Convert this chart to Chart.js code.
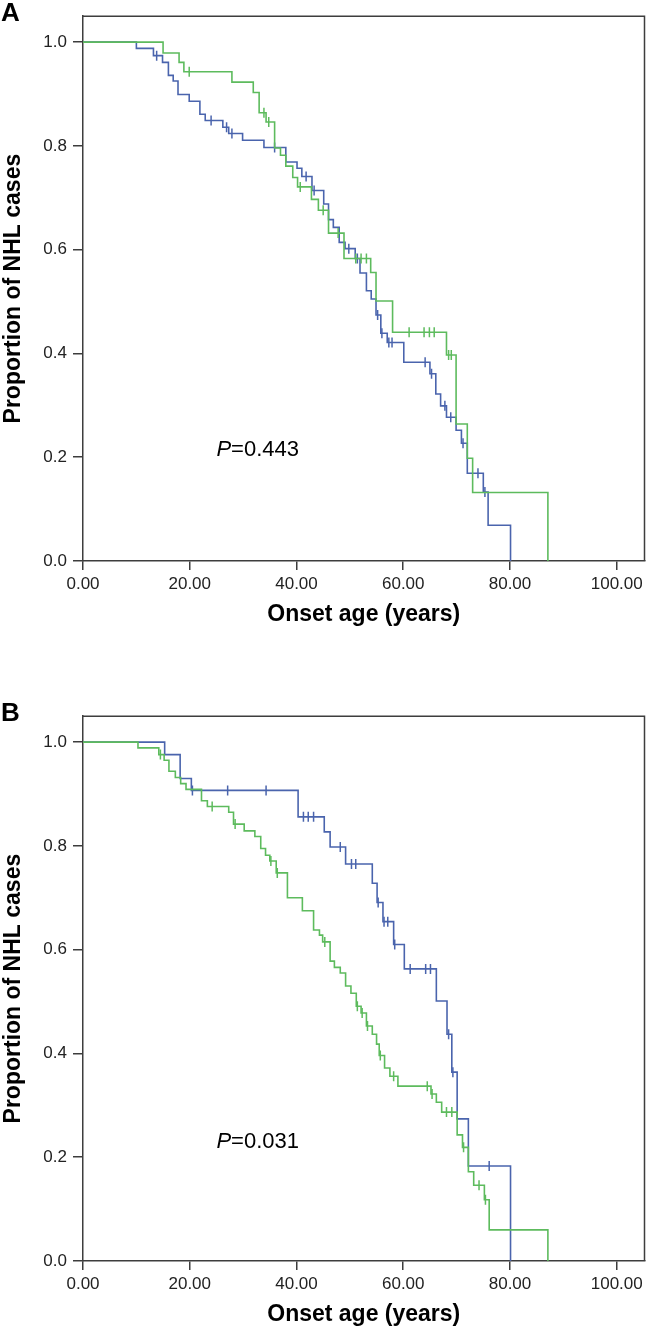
<!DOCTYPE html>
<html>
<head>
<meta charset="utf-8">
<script src="https://cdn.jsdelivr.net/npm/chart.js@4.4.1/dist/chart.umd.min.js"></script>
<style>
  html, body { margin: 0; padding: 0; background: #fff; }
  body { width: 651px; height: 1328px; position: relative; overflow: hidden; }
  canvas { position: absolute; left: 0; }
  #chartA { top: 0; }
  #chartB { top: 700px; }
</style>
</head>
<body>
<canvas id="chartA" width="651" height="628"></canvas>
<canvas id="chartB" width="651" height="628"></canvas>
<script>
const ageTicks = [0, 20, 40, 60, 80, 100];
const propTicks = [0, 0.2, 0.4, 0.6, 0.8, 1.0];

// panel A - blue group
const aBlueAge = [10.0, 13.2, 14.9, 16.0, 16.9, 17.8, 19.9, 21.9, 22.9, 26.2, 27.3, 29.9, 33.9, 38.0, 40.1, 41.0, 42.9, 45.1, 46.0, 46.9, 48.0, 49.1, 51.0, 51.9, 53.1, 54.0, 54.9, 55.8, 57.0, 60.1, 65.0, 66.1, 67.0, 68.1, 69.9, 70.9, 72.0, 75.0, 75.9, 80.1];
const aBlueProp = [0.988, 0.974, 0.961, 0.936, 0.925, 0.899, 0.886, 0.861, 0.849, 0.836, 0.824, 0.811, 0.797, 0.769, 0.757, 0.741, 0.714, 0.688, 0.658, 0.643, 0.614, 0.602, 0.583, 0.555, 0.521, 0.505, 0.474, 0.439, 0.421, 0.383, 0.361, 0.322, 0.299, 0.277, 0.252, 0.227, 0.169, 0.133, 0.069, 0];
const aBlueCensor = [13.8, 24.0, 26.9, 27.9, 35.9, 41.8, 43.3, 49.8, 51.4, 55.2, 56.0, 57.3, 57.9, 64.1, 65.3, 67.8, 68.9, 71.2, 74.0, 75.3];

// panel A - green group
const aGreenAge = [15.0, 18.0, 18.9, 27.9, 31.9, 33.0, 34.3, 35.9, 37.0, 38.0, 39.3, 40.2, 42.8, 44.1, 46.0, 48.9, 53.9, 54.9, 58.0, 68.1, 69.9, 72.0, 73.0, 87.1];
const aGreenProp = [0.979, 0.961, 0.943, 0.923, 0.903, 0.864, 0.846, 0.796, 0.782, 0.761, 0.739, 0.721, 0.697, 0.676, 0.632, 0.583, 0.556, 0.501, 0.441, 0.397, 0.264, 0.198, 0.132, 0];
const aGreenCensor = [19.9, 33.9, 34.8, 40.7, 45.0, 47.8, 51.1, 52.1, 53.1, 61.1, 63.9, 64.9, 65.8, 68.5, 69.0];

// panel B - blue group
const bBlueAge = [15.3, 18.2, 20.3, 40.3, 45.2, 46.3, 49.2, 54.2, 55.1, 56.2, 58.2, 60.2, 66.2, 68.2, 69.1, 70.1, 72.2, 80.1];
const bBlueProp = [0.976, 0.930, 0.907, 0.856, 0.827, 0.798, 0.765, 0.728, 0.691, 0.654, 0.610, 0.563, 0.501, 0.437, 0.364, 0.274, 0.183, 0];
const bBlueCensor = [20.5, 27.1, 34.3, 41.3, 42.2, 43.2, 48.2, 50.3, 51.1, 55.3, 56.4, 57.1, 58.4, 61.3, 64.2, 65.1, 68.5, 69.3, 76.1];

// panel B - green group
const bGreenAge = [10.3, 14.2, 15.2, 16.1, 17.3, 18.3, 19.3, 22.2, 23.3, 27.3, 28.2, 30.2, 32.2, 33.3, 34.2, 35.0, 36.2, 38.3, 41.1, 43.2, 44.3, 44.9, 46.3, 47.1, 48.2, 49.2, 50.2, 51.2, 52.1, 53.1, 54.2, 55.0, 55.5, 56.5, 57.5, 59.0, 65.2, 66.2, 67.2, 70.1, 71.1, 72.2, 73.2, 75.2, 76.1, 87.1];
const bGreenProp = [0.989, 0.976, 0.965, 0.944, 0.932, 0.920, 0.909, 0.887, 0.876, 0.865, 0.842, 0.829, 0.818, 0.795, 0.782, 0.771, 0.748, 0.700, 0.675, 0.638, 0.628, 0.615, 0.578, 0.566, 0.555, 0.530, 0.516, 0.491, 0.478, 0.453, 0.437, 0.418, 0.396, 0.372, 0.356, 0.337, 0.322, 0.306, 0.287, 0.243, 0.219, 0.172, 0.146, 0.118, 0.060, 0];
const bGreenCensor = [14.5, 24.2, 28.5, 35.2, 36.4, 45.3, 51.4, 52.3, 53.3, 55.7, 58.2, 64.5, 65.4, 68.1, 69.1, 71.3, 74.2, 75.4];

const blue = '#4a64ad';
const green = '#5dbb5d';
const frameColor = '#3d3d3d';
const fontFam = "'Liberation Sans', Arial, Helvetica, sans-serif";

function kmPoints(ages, props) {
    const pts = [{ x: 0, y: 1 }];
    ages.forEach((a, i) => pts.push({ x: a, y: props[i] }));
    return pts;
}

function survAt(ages, props, t) {
    let s = 1;
    for (let i = 0; i < ages.length; i++) {
        if (ages[i] <= t) s = props[i];
    }
    return s;
}

function censorPoints(ages, props, censor) {
    return censor.map(t => ({ x: t, y: survAt(ages, props, t) }));
}

const panelDecor = {
    id: 'panelDecor',
    afterDraw(chart, args, opts) {
        const { ctx, chartArea: a, scales } = chart;
        ctx.save();
        ctx.strokeStyle = frameColor;
        ctx.lineWidth = 1.5;
        ctx.beginPath();
        ctx.moveTo(a.left, a.top);
        ctx.lineTo(a.right, a.top);
        ctx.lineTo(a.right, a.bottom);
        ctx.stroke();

        ctx.fillStyle = '#000';
        ctx.font = 'bold 26px ' + fontFam;
        ctx.textBaseline = 'alphabetic';
        ctx.fillText(opts.letter, 1, 21);

        const px = scales.x.getPixelForValue(opts.pAge);
        const py = scales.y.getPixelForValue(opts.pProp);
        ctx.textBaseline = 'middle';
        ctx.font = 'italic 22px ' + fontFam;
        ctx.fillText('P', px, py);
        const w = ctx.measureText('P').width;
        ctx.font = '22px ' + fontFam;
        ctx.fillText(opts.pText, px + w, py);
        ctx.restore();
    }
};

function makeChart(id, letter, pText, pProp, blueSet, greenSet) {
    const lineStyle = { type: 'line', stepped: 'before', borderWidth: 1.6, pointRadius: 0, fill: false };
    const markStyle = { type: 'line', showLine: false, pointStyle: 'line', pointRotation: 90, pointRadius: 5, pointBorderWidth: 1.5 };

    new Chart(document.getElementById(id), {
        type: 'line',
        data: {
            datasets: [
                Object.assign({ data: kmPoints(greenSet[0], greenSet[1]), borderColor: green }, lineStyle),
                Object.assign({ data: censorPoints(greenSet[0], greenSet[1], greenSet[2]), borderColor: green, pointBorderColor: green }, markStyle),
                Object.assign({ data: kmPoints(blueSet[0], blueSet[1]), borderColor: blue }, lineStyle),
                Object.assign({ data: censorPoints(blueSet[0], blueSet[1], blueSet[2]), borderColor: blue, pointBorderColor: blue }, markStyle)
            ]
        },
        options: {
            responsive: false,
            animation: false,
            layout: { padding: { top: 1, right: 1, left: 0, bottom: 0 } },
            plugins: {
                legend: { display: false },
                tooltip: { enabled: false },
                panelDecor: { letter: letter, pText: pText, pAge: 25, pProp: pProp }
            },
            scales: {
                x: {
                    type: 'linear',
                    min: 0,
                    max: 105.2,
                    afterBuildTicks: s => { s.ticks = ageTicks.map(v => ({ value: v })); },
                    afterFit: s => { s.height = 67; },
                    ticks: {
                        autoSkip: false,
                        maxRotation: 0,
                        padding: 4,
                        color: '#222',
                        font: { family: fontFam, size: 17 },
                        callback: v => Number(v).toFixed(2)
                    },
                    grid: { drawOnChartArea: false, drawTicks: true, tickLength: 9, color: frameColor, lineWidth: 1.5 },
                    border: { display: true, color: frameColor, width: 1.5 },
                    title: {
                        display: true,
                        text: 'Onset age (years)',
                        color: '#000',
                        padding: { top: 0, bottom: 0 },
                        font: { family: fontFam, size: 23, weight: 'bold' }
                    }
                },
                y: {
                    type: 'linear',
                    min: 0,
                    max: 1.05,
                    afterBuildTicks: s => { s.ticks = propTicks.map(v => ({ value: v })); },
                    afterFit: s => { s.width = 83; },
                    ticks: {
                        autoSkip: false,
                        padding: 6,
                        color: '#222',
                        font: { family: fontFam, size: 17 },
                        callback: v => Number(v).toFixed(1)
                    },
                    grid: { drawOnChartArea: false, drawTicks: true, tickLength: 10, color: frameColor, lineWidth: 1.5 },
                    border: { display: true, color: frameColor, width: 1.5 },
                    title: {
                        display: true,
                        text: 'Proportion of NHL cases',
                        color: '#000',
                        padding: { top: 0, bottom: 0 },
                        font: { family: fontFam, size: 23, weight: 'bold' }
                    }
                }
            }
        },
        plugins: [panelDecor]
    });
}

makeChart('chartA', 'A', '=0.443', 0.214, [aBlueAge, aBlueProp, aBlueCensor], [aGreenAge, aGreenProp, aGreenCensor]);
makeChart('chartB', 'B', '=0.031', 0.229, [bBlueAge, bBlueProp, bBlueCensor], [bGreenAge, bGreenProp, bGreenCensor]);
</script>
</body>
</html>
